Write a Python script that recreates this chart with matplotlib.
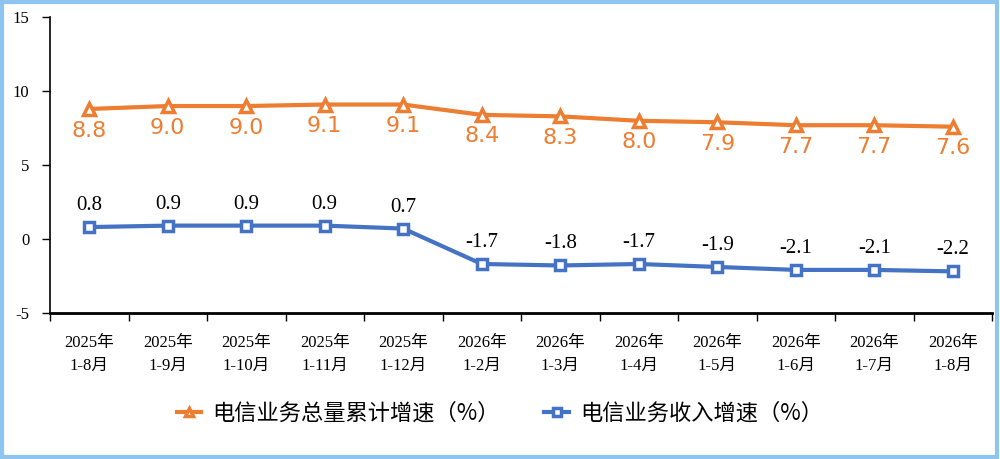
import numpy as np
import matplotlib
matplotlib.use('Agg')
import matplotlib.pyplot as plt
from matplotlib.patches import Rectangle

# category labels (two lines each)
periods = ['2025年\n1-8月', '2025年\n1-9月', '2025年\n1-10月', '2025年\n1-11月',
           '2025年\n1-12月', '2026年\n1-2月', '2026年\n1-3月', '2026年\n1-4月',
           '2026年\n1-5月', '2026年\n1-6月', '2026年\n1-7月', '2026年\n1-8月']

# 电信业务总量累计增速 (%)
volume_growth = [8.8, 9.0, 9.0, 9.1, 9.1, 8.4, 8.3, 8.0, 7.9, 7.7, 7.7, 7.6]
# 电信业务收入增速 (%)
revenue_growth = [0.8, 0.9, 0.9, 0.9, 0.7, -1.7, -1.8, -1.7, -1.9, -2.1, -2.1, -2.2]

ORANGE = '#ED7D31'
BLUE = '#4472C4'
SERIF = ['Liberation Serif', 'Noto Sans CJK SC']
CJK = ['Noto Sans CJK SC', 'DejaVu Sans']

fig = plt.figure(figsize=(10, 4.59), dpi=100)
ax = fig.add_axes([0.05, 0.3187, 0.942, 0.6433])

x = np.arange(len(periods))
ax.plot(x, volume_growth, color=ORANGE, lw=3, marker='^', ms=8,
        mfc='white', mec=ORANGE, mew=2.5, label='电信业务总量累计增速（%）', zorder=3)
ax.plot(x, revenue_growth, color=BLUE, lw=3, marker='s', ms=6.5,
        mfc='white', mec=BLUE, mew=2.5, label='电信业务收入增速（%）', zorder=3)

# value labels
for xi, v in zip(x, volume_growth):
    ax.annotate(f'{v:.1f}', (xi, v), xytext=(0, -15.5), textcoords='offset points',
                ha='center', va='center', color=ORANGE, fontsize=16,
                family='DejaVu Sans')
for xi, v in zip(x, revenue_growth):
    ax.annotate(f'{v:.1f}', (xi, v), xytext=(0, 15.5), textcoords='offset points',
                ha='center', va='center', color='black', fontsize=15,
                family='Liberation Serif')

ax.set_xlim(-0.5, len(periods) - 0.5)
ax.set_ylim(-5, 15)
ax.set_yticks([-5, 0, 5, 10, 15])
ax.set_yticklabels(['-5', '0', '5', '10', '15'], family='Liberation Serif', fontsize=12)

# ticks on category boundaries, labels on centres
ax.set_xticks(np.arange(-0.5, len(periods), 1))
ax.set_xticklabels([])
ax.set_xticks(x, minor=True)
ax.set_xticklabels(periods, minor=True, family=SERIF, fontsize=12, linespacing=1.55)
ax.tick_params(axis='x', which='major', length=6, width=1, direction='out')
ax.tick_params(axis='x', which='minor', length=0, pad=16)
ax.tick_params(axis='y', length=6, width=1, direction='out', pad=9)

for s in ['top', 'right']:
    ax.spines[s].set_visible(False)
ax.spines['left'].set_linewidth(1.2)
ax.spines['bottom'].set_linewidth(2)

leg = fig.legend(loc='center', bbox_to_anchor=(0.5, 0.1), ncol=2, frameon=False,
                 prop={'family': CJK, 'size': 16}, handlelength=1.1,
                 columnspacing=2.0, handletextpad=0.5, markerscale=0.8)

# light blue frame around the picture
fig.patches.append(Rectangle((0.002, 0.004), 0.995, 0.992, transform=fig.transFigure,
                             fill=False, ec='#8EC4F0', lw=3))

fig.savefig('out.png', dpi=100)
